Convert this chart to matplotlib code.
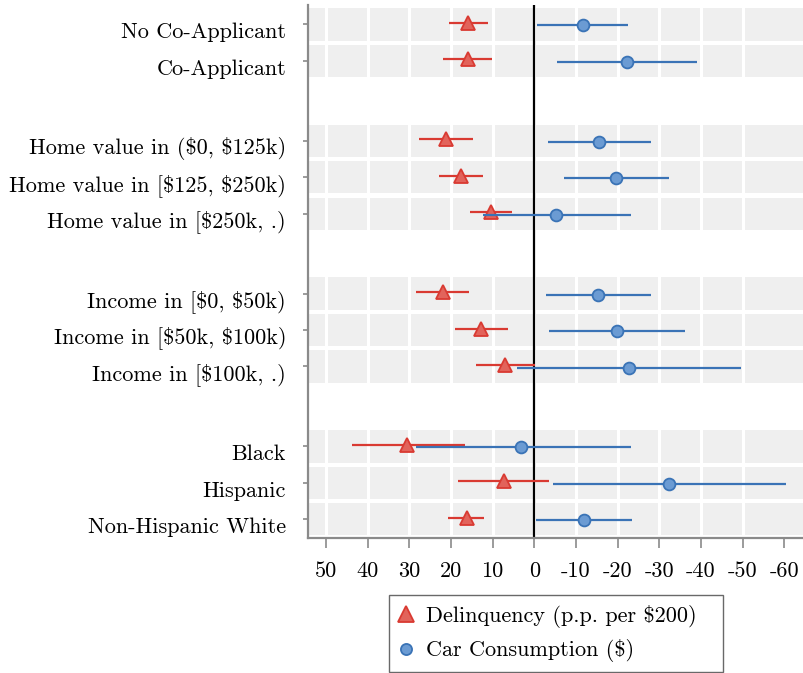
import matplotlib
matplotlib.use("Agg")
import matplotlib.pyplot as plt
from matplotlib.lines import Line2D
from matplotlib.transforms import ScaledTranslation

plt.rcParams["font.family"] = ["cmr10", "DejaVu Serif"]
plt.rcParams["axes.unicode_minus"] = False
plt.rcParams["mathtext.fontset"] = "cm"

# rows, top to bottom, in groups
groups = [
    ["No Co-Applicant", "Co-Applicant"],
    [r"Home value in (\$0, \$125k)", r"Home value in [\$125, \$250k)", r"Home value in [\$250k, .)"],
    [r"Income in [\$0, \$50k)", r"Income in [\$50k, \$100k)", r"Income in [\$100k, .)"],
    ["Black", "Hispanic", "Non-Hispanic White"],
]

delinq = [15.8, 16.0, 21.3, 17.6, 10.5, 22.0, 12.8, 7.1, 30.5, 7.3, 16.2]
delinq_lo = [11.2, 10.2, 14.8, 12.4, 5.4, 15.6, 6.4, -0.2, 16.7, -3.6, 12.0]
delinq_hi = [20.5, 21.8, 27.7, 22.8, 15.4, 28.4, 19.0, 14.0, 43.8, 18.3, 20.6]

car = [-11.6, -22.3, -15.5, -19.7, -5.2, -15.4, -19.8, -22.7, 3.3, -32.3, -11.9]
car_lo = [-22.6, -39.0, -27.9, -32.3, -23.1, -27.9, -36.2, -49.5, -23.1, -60.3, -23.5]
car_hi = [-0.6, -5.5, -3.2, -7.2, 12.3, -2.9, -3.6, 4.2, 28.5, -4.6, -0.4]

xticks = [50, 40, 30, 20, 10, 0, -10, -20, -30, -40, -50, -60]
xticklabels = ["50", "40", "30", "20", "10", "0", "-10", "-20", "-30", "-40", "-50", "-60"]

RED = "#d93a32"
RED_FACE = "#e2635b"
BLUE = "#3a73b6"
BLUE_FACE = "#6b9bd3"
FS = 16

labels = []
ypos = []
y = 0.0
for g in groups:
    for name in g:
        labels.append(name)
        ypos.append(y)
        y -= 1.0
    y -= 1.19

fig = plt.figure(figsize=(8.04, 6.73), dpi=100)
ax = fig.add_axes([0.3831, 0.2013, 0.6157, 0.7912])

for yy in ypos:
    ax.axhspan(yy - 0.443, yy + 0.443, color="#efefef", lw=0, zorder=0)
for xt in xticks[:-1]:
    ax.axvline(xt, color="white", lw=2.2, zorder=1)
ax.axvline(0, color="black", lw=1.6, zorder=2)

yr = [v + 0.04 for v in ypos]
yb = [v - 0.03 for v in ypos]

ax.hlines(yr, delinq_lo, delinq_hi, color=RED, lw=1.6, zorder=3)
ax.plot(delinq, yr, ls="none", marker="^", ms=10, mfc=RED_FACE, mec=RED, mew=1.3, zorder=4)
ax.hlines(yb, car_lo, car_hi, color=BLUE, lw=1.6, zorder=5)
ax.plot(car, yb, ls="none", marker="o", ms=8.5, mfc=BLUE_FACE, mec=BLUE, mew=1.3, zorder=6)

ax.set_xlim(54.3, -64.5)
ax.set_ylim(ypos[-1] - 0.5, ypos[0] + 0.53)
ax.set_xticks(xticks)
ax.set_xticklabels(xticklabels, fontsize=FS)
ax.set_yticks(ypos)
ax.set_yticklabels([])

# row labels sit a bit below their ticks, as in the original
shift = ScaledTranslation(0, -8 / 100, fig.dpi_scale_trans)
for name, yy in zip(labels, ypos):
    ax.text(-0.0444, yy, name, fontsize=FS, ha="right", va="center",
            transform=ax.get_yaxis_transform() + shift)

for s in ["top", "right"]:
    ax.spines[s].set_visible(False)
for s in ["left", "bottom"]:
    ax.spines[s].set_color("#8a8a8a")
    ax.spines[s].set_linewidth(1.6)
ax.tick_params(axis="x", length=7.5, width=1.2, color="#8a8a8a", pad=10)
ax.tick_params(axis="y", length=3.8, width=1.2, color="#8a8a8a")

handles = [
    Line2D([], [], ls="none", marker="^", ms=11, mfc=RED_FACE, mec=RED, mew=1.3),
    Line2D([], [], ls="none", marker="o", ms=8, mfc=BLUE_FACE, mec=BLUE, mew=1.3),
]
leg = fig.legend(
    handles,
    [r"Delinquency (p.p. per \$200)", r"Car Consumption (\$)"],
    loc="center",
    bbox_to_anchor=(389 / 804, 1 - 672 / 673, 334 / 804, 77 / 673),
    mode="expand",
    borderaxespad=0,
    fontsize=FS,
    frameon=True,
    fancybox=False,
    handlelength=0.6,
    handletextpad=0.6,
    borderpad=0.45,
    labelspacing=0.53,
)
leg.get_frame().set_edgecolor("#444444")
leg.get_frame().set_linewidth(1.0)

plt.savefig("out.png", dpi=100)
